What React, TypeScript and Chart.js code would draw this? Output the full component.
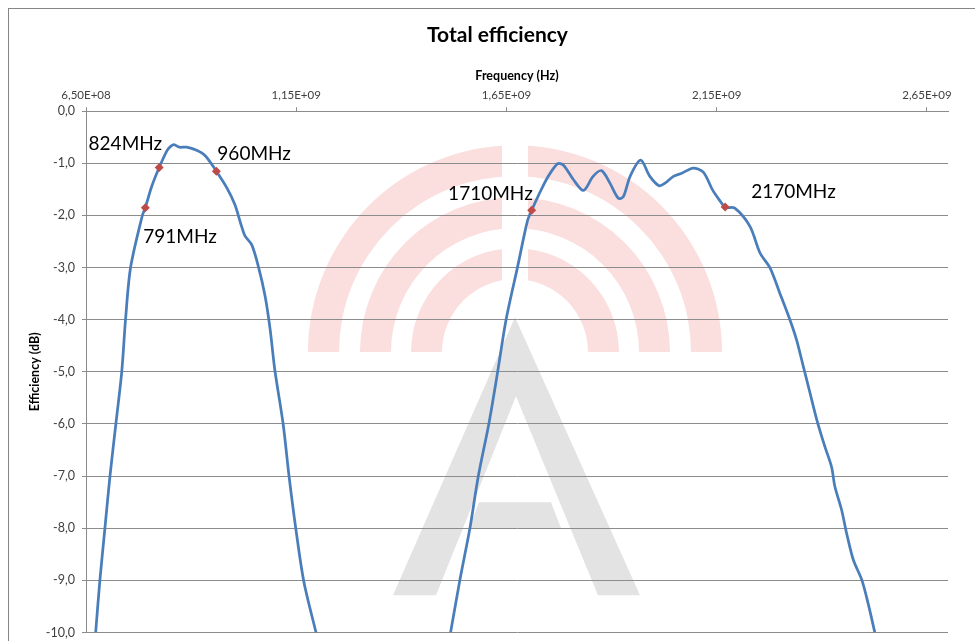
import React, { useEffect, useRef } from 'react';
import { Chart, registerables } from 'chart.js';

Chart.register(...registerables);

// ---------- data (frequency in MHz, efficiency in dB) ----------
const LOW_BAND_FREQ_MHZ = [673, 683, 695, 707, 721, 735, 744, 756, 784, 791, 806, 824, 843, 852, 859, 872, 889, 913, 933, 960, 985, 1004, 1020, 1028, 1044, 1060, 1076, 1088, 1099, 1119, 1133, 1149, 1168, 1197];
const LOW_BAND_EFF_DB = [-10, -9, -8, -7, -6, -5, -4, -3, -2.0, -1.85, -1.45, -1.08, -0.75, -0.67, -0.64, -0.69, -0.69, -0.75, -0.85, -1.15, -1.47, -1.79, -2.21, -2.39, -2.56, -2.98, -3.55, -4.19, -4.96, -6.01, -7.01, -8.01, -9.02, -10];

const HIGH_BAND_FREQ_MHZ = [1517, 1539, 1563, 1583, 1608, 1627, 1649, 1676, 1700, 1710, 1727, 1747, 1771, 1785, 1809, 1833, 1856, 1876, 1896, 1916, 1928, 1944, 1969, 1991, 2013, 2027, 2047, 2067, 2094, 2118, 2140, 2156, 2170, 2193, 2229, 2253, 2277, 2300, 2324, 2340, 2356, 2372, 2388, 2407, 2423, 2431, 2447, 2459, 2475, 2495, 2510, 2526];
const HIGH_BAND_EFF_DB = [-10, -9, -8, -7, -6, -5.1, -4, -3, -2.1, -1.9, -1.6, -1.28, -1.01, -1.03, -1.31, -1.52, -1.25, -1.14, -1.38, -1.67, -1.64, -1.25, -0.94, -1.25, -1.43, -1.38, -1.25, -1.19, -1.09, -1.17, -1.51, -1.70, -1.84, -1.86, -2.21, -2.72, -3.01, -3.49, -4.0, -4.39, -4.90, -5.41, -5.92, -6.43, -6.82, -7.20, -7.65, -8.10, -8.61, -8.99, -9.44, -10];

const MARKER_FREQ_MHZ = [791, 824, 960, 1710, 2170];
const MARKER_EFF_DB = [-1.85, -1.08, -1.15, -1.90, -1.84];
const MARKER_LABELS = ['791MHz', '824MHz', '960MHz', '1710MHz', '2170MHz'];

const X_TICKS_MHZ = [650, 1150, 1650, 2150, 2650];
const X_TICK_LABELS = ['6,50E+08', '1,15E+09', '1,65E+09', '2,15E+09', '2,65E+09'];
const Y_TICKS = [0, -1, -2, -3, -4, -5, -6, -7, -8, -9, -10];

const TITLE = 'Total efficiency';
const X_TITLE = 'Frequency (Hz)';
const Y_TITLE = 'Efficiency (dB)';

// ---------- styling / label placement ----------
const LABEL_OFFSETS = [
  { dx: -2, dy: 35, align: 'left' },
  { dx: 3, dy: -18, align: 'right' },
  { dx: 1, dy: -11, align: 'left' },
  { dx: 1, dy: -10, align: 'right' },
  { dx: 26, dy: -9, align: 'left' },
];

const GRID = '#8c8c8c';
const FONT = 'Lato';

const markerLabelsPlugin = {
  id: 'markerLabels',
  afterDatasetsDraw(chart: any) {
    const ctx = chart.ctx;
    const meta = chart.getDatasetMeta(0);
    ctx.save();
    ctx.font = `19px ${FONT}`;
    ctx.fillStyle = '#000';
    ctx.textBaseline = 'alphabetic';
    meta.data.forEach((pt: any, i: number) => {
      const o = LABEL_OFFSETS[i];
      ctx.textAlign = o.align;
      ctx.fillText(MARKER_LABELS[i], pt.x + o.dx, pt.y + o.dy);
    });
    ctx.restore();
  },
};

// decorative watermark (logo) behind the plot
const watermarkPlugin = {
  id: 'watermark',
  beforeDraw(chart: any) {
    const { ctx, chartArea: a } = chart;
    const ox = a.left;
    const oy = a.top;
    ctx.save();
    ctx.beginPath();
    ctx.rect(a.left, a.top, a.right - a.left, a.bottom - a.top);
    ctx.clip();

    const cx = ox + 429;
    const cy = oy + 241;
    ctx.save();
    ctx.beginPath();
    ctx.rect(a.left, a.top, cx - 13 - a.left, cy - a.top);
    ctx.rect(cx + 13, a.top, a.right - cx - 13, cy - a.top);
    ctx.clip();
    ctx.fillStyle = '#fbdede';
    const bands = [[176, 207], [124, 155], [73, 104]];
    bands.forEach(([r0, r1]) => {
      ctx.beginPath();
      ctx.arc(cx, cy, r1, Math.PI, 2 * Math.PI);
      ctx.lineTo(cx + r0, cy);
      ctx.arc(cx, cy, r0, 2 * Math.PI, Math.PI, true);
      ctx.closePath();
      ctx.fill();
    });
    ctx.restore();

    ctx.fillStyle = '#e3e3e3';
    ctx.beginPath();
    ctx.moveTo(ox + 429, oy + 206);
    ctx.lineTo(ox + 554, oy + 484);
    ctx.lineTo(ox + 512, oy + 484);
    ctx.lineTo(ox + 430, oy + 285);
    ctx.lineTo(ox + 350, oy + 484);
    ctx.lineTo(ox + 307, oy + 484);
    ctx.closePath();
    ctx.fill();
    ctx.beginPath();
    ctx.moveTo(ox + 393, oy + 391);
    ctx.lineTo(ox + 465, oy + 391);
    ctx.lineTo(ox + 475, oy + 417);
    ctx.lineTo(ox + 383, oy + 417);
    ctx.closePath();
    ctx.fill();
    ctx.restore();
  },
};

export default function App() {
  const canvasRef = useRef<HTMLCanvasElement | null>(null);

  useEffect(() => {
    const canvas = canvasRef.current;
    if (!canvas) return;

    const lineData: any[] = [];
    LOW_BAND_FREQ_MHZ.forEach((f, i) => lineData.push({ x: f, y: LOW_BAND_EFF_DB[i] }));
    lineData.push({ x: (LOW_BAND_FREQ_MHZ[LOW_BAND_FREQ_MHZ.length - 1] + HIGH_BAND_FREQ_MHZ[0]) / 2, y: null });
    HIGH_BAND_FREQ_MHZ.forEach((f, i) => lineData.push({ x: f, y: HIGH_BAND_EFF_DB[i] }));
    const markerData = MARKER_FREQ_MHZ.map((f, i) => ({ x: f, y: MARKER_EFF_DB[i] }));

    const chart = new Chart(canvas, {
      type: 'line',
      data: {
        datasets: [
          {
            label: 'Band edges',
            data: markerData,
            showLine: false,
            pointStyle: 'rectRot',
            pointRadius: 4.5,
            pointBackgroundColor: '#be4b48',
            pointBorderColor: '#be4b48',
            pointBorderWidth: 0,
            order: 0,
          } as any,
          {
            label: TITLE,
            data: lineData,
            borderColor: '#4a7ebb',
            borderWidth: 2.75,
            pointRadius: 0,
            tension: 0.3,
            spanGaps: false,
            fill: false,
            order: 1,
          } as any,
        ],
      },
      options: {
        responsive: false,
        animation: false,
        devicePixelRatio: 1,
        layout: { padding: { left: 0, right: 0, top: 0, bottom: 8.5 } },
        plugins: {
          legend: { display: false },
          tooltip: { enabled: false },
          title: {
            display: true,
            text: TITLE,
            color: '#000',
            font: { family: FONT, size: 21, weight: 'bold' },
            padding: { top: 23, bottom: 17 },
          },
        },
        scales: {
          x: {
            type: 'linear',
            position: 'top',
            min: 650,
            max: 2700,
            afterBuildTicks: (s: any) => {
              s.ticks = X_TICKS_MHZ.map((v) => ({ value: v }));
            },
            afterFit: (s: any) => {
              s.height = 46;
            },
            ticks: {
              callback: (v: any) => {
                const i = X_TICKS_MHZ.indexOf(Number(v));
                return i >= 0 ? X_TICK_LABELS[i] : '';
              },
              font: { family: FONT, size: 11.5 },
              color: '#404040',
              padding: 5,
              maxRotation: 0,
              autoSkip: false,
            },
            grid: { drawOnChartArea: false, drawTicks: true, tickLength: 4, color: GRID },
            border: { display: true, color: GRID, width: 1 },
            title: {
              display: true,
              text: X_TITLE,
              color: '#000',
              font: { family: FONT, size: 12.5, weight: 'bold' },
              padding: { top: 3, bottom: 6 },
            },
          },
          y: {
            type: 'linear',
            position: 'left',
            min: -10,
            max: 0,
            afterBuildTicks: (s: any) => {
              s.ticks = Y_TICKS.map((v) => ({ value: v }));
            },
            afterFit: (s: any) => {
              s.width = 86;
              s.paddingTop = 0;
              s.paddingBottom = 0;
            },
            ticks: {
              callback: (v: any) => Number(v).toFixed(1).replace('.', ','),
              font: { family: FONT, size: 12.5 },
              color: '#404040',
              padding: 7,
            },
            grid: { color: GRID, tickLength: 4, drawTicks: true, lineWidth: 1 },
            border: { display: true, color: GRID, width: 1 },
            title: {
              display: true,
              text: Y_TITLE,
              color: '#000',
              font: { family: FONT, size: 12.5, weight: 'bold' },
              padding: { top: 27, bottom: 4 },
            },
          },
          yRightSpace: {
            type: 'linear',
            position: 'right',
            display: true,
            min: 0,
            max: 1,
            afterFit: (s: any) => {
              s.width = 47;
              s.paddingTop = 0;
              s.paddingBottom = 0;
            },
            grid: { display: false },
            ticks: { display: false },
            border: { display: false },
          },
        },
      } as any,
      plugins: [watermarkPlugin, markerLabelsPlugin],
    });

    return () => chart.destroy();
  }, []);

  return (
    <div style={{ position: 'absolute', left: 0, top: 0, width: 975, height: 641, overflow: 'hidden', background: '#fff' }}>
      <div
        style={{
          position: 'absolute',
          left: 8,
          top: 8,
          width: 2000,
          height: 2000,
          borderTop: '1px solid #868686',
          borderLeft: '1px solid #868686',
        }}
      />
      <canvas ref={canvasRef} width={995} height={641} style={{ position: 'absolute', left: 0, top: 0, width: 995, height: 641 }} />
    </div>
  );
}
